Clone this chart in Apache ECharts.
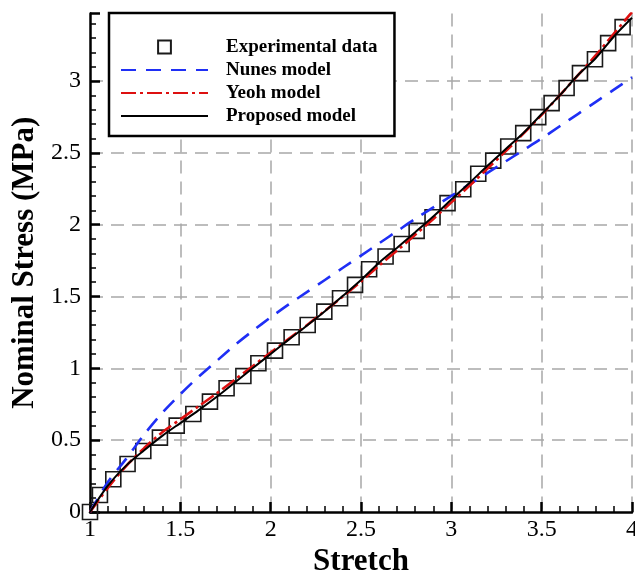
<!DOCTYPE html>
<html>
<head>
    <meta charset="utf-8">
    <title>Nominal stress vs stretch</title>
    <script src="https://cdn.jsdelivr.net/npm/echarts@6/dist/echarts.min.js"></script>
    <style>
        html, body {
            margin: 0;
            padding: 0;
            overflow: hidden;
            background: #fff;
        }
        #main {
            width: 635px;
            height: 571px;
        }
    </style>
</head>
<body>
    <div id="main"></div>
    <script type="text/javascript">
        // experimental points (squares)
        var expStretch = [1.0, 1.055, 1.129, 1.208, 1.295, 1.387, 1.480, 1.572, 1.664, 1.756, 1.849, 1.932,
            2.024, 2.116, 2.205, 2.297, 2.384, 2.467, 2.545, 2.636, 2.725, 2.808, 2.896, 2.979,
            3.066, 3.149, 3.232, 3.315, 3.398, 3.481, 3.555, 3.638, 3.712, 3.795, 3.868, 3.948];
        var expStress = [0, 0.118, 0.228, 0.334, 0.425, 0.518, 0.601, 0.682, 0.768, 0.861, 0.947, 1.035,
            1.123, 1.216, 1.302, 1.395, 1.488, 1.581, 1.690, 1.778, 1.866, 1.957, 2.052, 2.150,
            2.247, 2.354, 2.446, 2.544, 2.637, 2.749, 2.846, 2.951, 3.055, 3.152, 3.264, 3.375];

        // model curves, sampled every 0.1 of stretch
        var modelStretch = [1.0, 1.1, 1.2, 1.3, 1.4, 1.5, 1.6, 1.7, 1.8, 1.9, 2.0, 2.1, 2.2, 2.3, 2.4, 2.5,
            2.6, 2.7, 2.8, 2.9, 3.0, 3.1, 3.2, 3.3, 3.4, 3.5, 3.6, 3.7, 3.8, 3.9, 4.0];
        var nunesStress = [0, 0.21, 0.37, 0.54, 0.69, 0.82, 0.94, 1.05, 1.16, 1.26, 1.355, 1.445, 1.53, 1.615, 1.70, 1.785,
            1.87, 1.955, 2.04, 2.12, 2.20, 2.28, 2.36, 2.44, 2.52, 2.60, 2.685, 2.77, 2.855, 2.94, 3.025];
        var yeohStress = [0, 0.17, 0.32, 0.445, 0.555, 0.645, 0.735, 0.825, 0.92, 1.015, 1.11, 1.205, 1.30, 1.40, 1.50, 1.605,
            1.715, 1.82, 1.93, 2.04, 2.155, 2.27, 2.39, 2.51, 2.635, 2.765, 2.90, 3.04, 3.18, 3.33, 3.48];
        var proposedStress = [0, 0.185, 0.323, 0.43, 0.53, 0.619, 0.707, 0.80, 0.90, 1.0, 1.10, 1.20, 1.297, 1.398, 1.505, 1.615,
            1.735, 1.84, 1.948, 2.057, 2.175, 2.29, 2.41, 2.525, 2.64, 2.77, 2.90, 3.04, 3.16, 3.31, 3.44];

        var seriesNames = ['Experimental data', 'Nunes model', 'Yeoh model', 'Proposed model'];

        function pairs(xs, ys) {
            var out = [];
            for (var i = 0; i < xs.length; i++) {
                out.push([xs[i], ys[i]]);
            }
            return out;
        }

        var serif = '"Liberation Serif", "Times New Roman", serif';
        var myChart = echarts.init(document.getElementById('main'), null, {width: 635, height: 571});

        var gridDash = {color: '#a8a8a8', width: 1.5, type: [13, 8]};

        // legend entries: model lines get no marker in the middle
        var legendData = seriesNames.map(function (n, i) {
            return i === 0 ? {name: n} : {name: n, itemStyle: {opacity: 0}};
        });

        var option = {
            animation: false,
            backgroundColor: '#fff',
            grid: {left: 90, right: 3, top: 13.5, bottom: 59, outerBoundsMode: 'none', containLabel: false},
            legend: {
                left: 109,
                top: 13,
                orient: 'vertical',
                selectedMode: false,
                backgroundColor: '#fff',
                borderColor: '#000',
                borderWidth: 2.5,
                borderRadius: 0,
                padding: [24, 17, 10, 11],
                itemWidth: 87,
                itemHeight: 16,
                itemGap: 3,
                textStyle: {
                    fontFamily: serif,
                    fontWeight: 'bold',
                    fontSize: 19,
                    lineHeight: 20,
                    color: '#000',
                    padding: [0, 0, 0, 13]
                },
                data: legendData
            },
            xAxis: {
                type: 'value',
                min: 1,
                max: 4,
                interval: 0.5,
                name: 'Stretch',
                nameLocation: 'middle',
                nameGap: 30,
                nameTextStyle: {fontFamily: serif, fontWeight: 'bold', fontSize: 31, color: '#000'},
                axisLine: {show: true, onZero: false, lineStyle: {color: '#000', width: 2.5}},
                axisTick: {show: true, inside: true, length: 10, lineStyle: {color: '#000', width: 2.5}},
                minorTick: {show: true, splitNumber: 5, length: 6, lineStyle: {color: '#000', width: 1.5}},
                axisLabel: {fontFamily: serif, fontSize: 24, color: '#000', margin: 6},
                splitLine: {show: true, showMinLine: false, lineStyle: gridDash}
            },
            yAxis: {
                type: 'value',
                min: 0,
                max: 3.47,
                interval: 0.5,
                name: 'Nominal Stress (MPa)',
                nameLocation: 'middle',
                nameGap: 44,
                nameTextStyle: {fontFamily: serif, fontWeight: 'bold', fontSize: 31, color: '#000'},
                axisLine: {show: true, onZero: false, lineStyle: {color: '#000', width: 2.5}},
                axisTick: {show: true, inside: true, length: 10, lineStyle: {color: '#000', width: 2.5}},
                minorTick: {show: true, splitNumber: 5, length: 6, lineStyle: {color: '#000', width: 1.5}},
                axisLabel: {fontFamily: serif, fontSize: 24, color: '#000', margin: 9, showMaxLabel: false},
                splitLine: {show: true, showMinLine: false, showMaxLine: false, lineStyle: gridDash}
            },
            series: [
                {
                    name: seriesNames[0],
                    type: 'line',
                    data: pairs(expStretch, expStress),
                    symbol: 'rect',
                    symbolSize: 15,
                    showAllSymbol: true,
                    lineStyle: {width: 0},
                    itemStyle: {color: 'rgba(255,255,255,0)', borderColor: '#1a1a1a', borderWidth: 1.6},
                    z: 1
                },
                {
                    name: seriesNames[1],
                    type: 'line',
                    data: pairs(modelStretch, nunesStress),
                    symbol: 'none',
                    smooth: 0.3,
                    lineStyle: {color: '#1f2ff5', width: 2.6, type: [15, 10]},
                    itemStyle: {color: '#1f2ff5'},
                    z: 3
                },
                {
                    name: seriesNames[2],
                    type: 'line',
                    data: pairs(modelStretch, yeohStress),
                    symbol: 'none',
                    smooth: 0.3,
                    lineStyle: {color: '#dd1010', width: 2.6, type: [15, 4, 3, 4]},
                    itemStyle: {color: '#dd1010'},
                    z: 3
                },
                {
                    name: seriesNames[3],
                    type: 'line',
                    data: pairs(modelStretch, proposedStress),
                    symbol: 'none',
                    smooth: 0.3,
                    lineStyle: {color: '#000', width: 2},
                    itemStyle: {color: '#000'},
                    z: 4
                }
            ]
        };

        if (option && typeof option === "object") {
            myChart.setOption(option, true);
        }
    </script>
</body>
</html>
